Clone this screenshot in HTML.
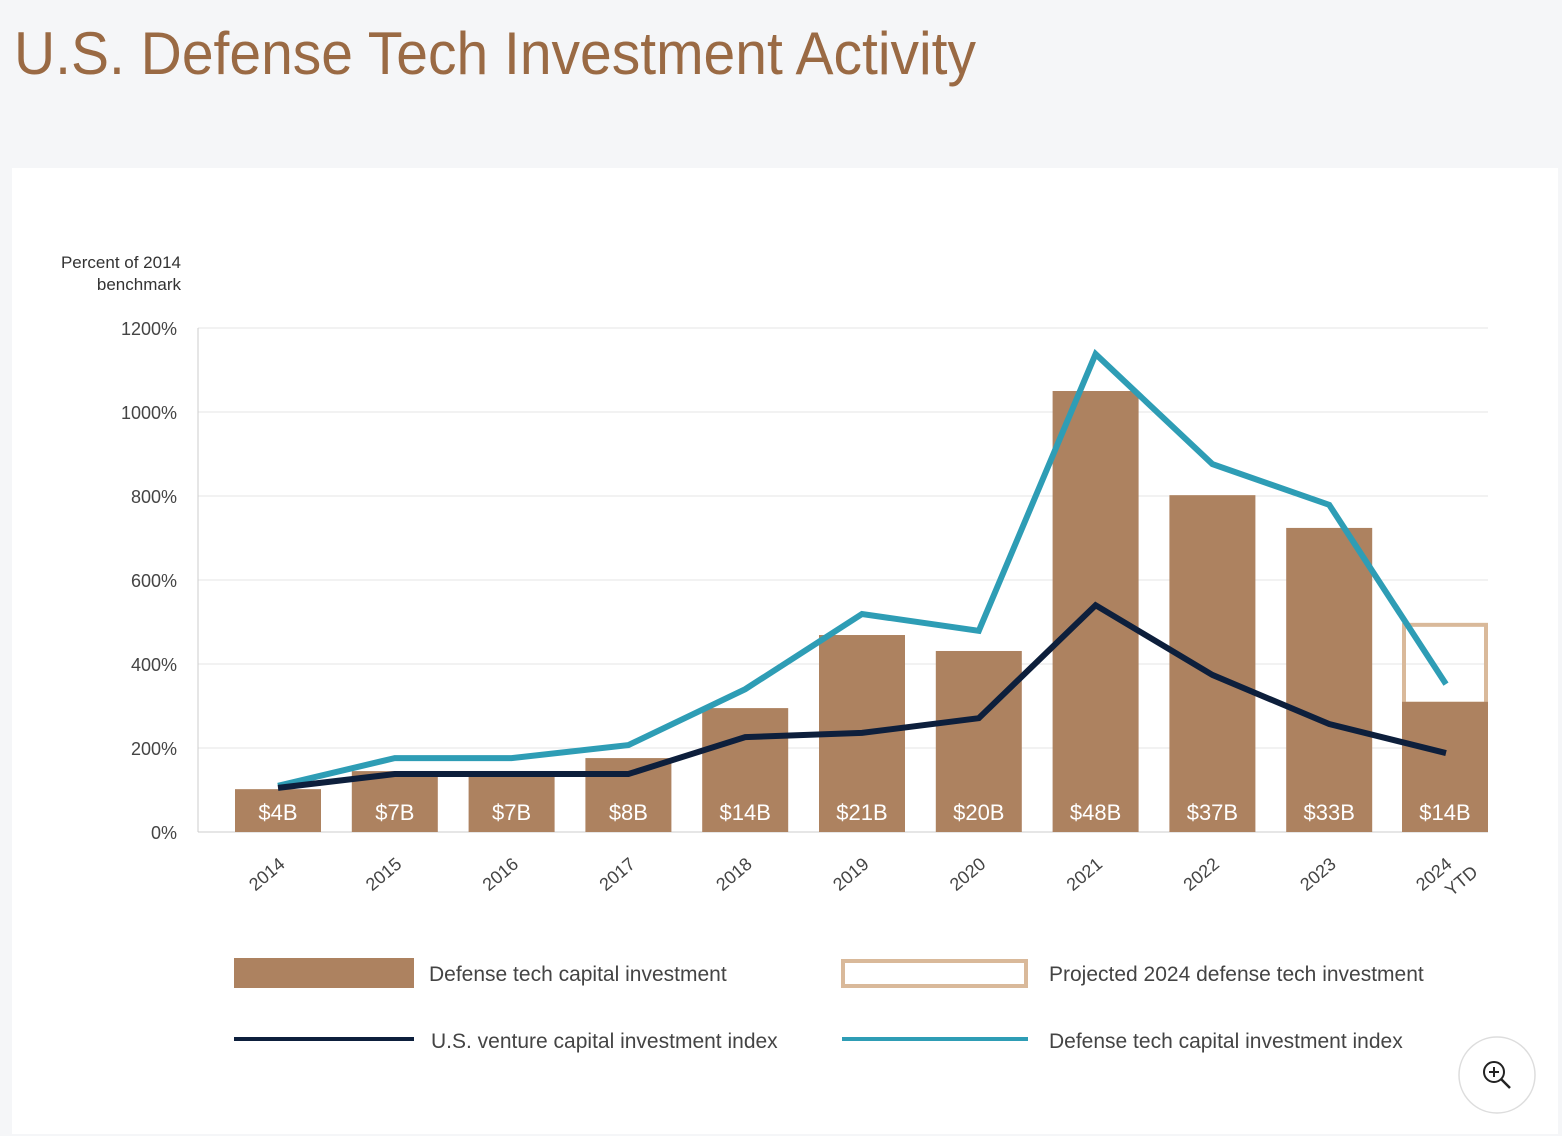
<!DOCTYPE html>
<html><head><meta charset="utf-8"><style>
html,body{margin:0;padding:0;background:#f5f6f8;}
svg{display:block;font-family:"Liberation Sans",sans-serif;}
</style></head><body>
<svg id="chart" width="1562" height="1136" viewBox="0 0 1562 1136">
<rect x="0" y="0" width="1562" height="1136" fill="#f5f6f8"/>
<text x="14" y="74" font-size="60" fill="#9a6a44" textLength="962" lengthAdjust="spacingAndGlyphs">U.S. Defense Tech Investment Activity</text>
<rect x="12" y="168" width="1546" height="966" fill="#ffffff"/>
<text x="181" y="268" font-size="17" fill="#333" text-anchor="end">Percent of 2014</text>
<text x="181" y="290" font-size="17" fill="#333" text-anchor="end">benchmark</text>
<g id="grid"></g><g id="bars"></g><g id="lines"></g><g id="xlabels"></g>
<g>
<rect x="234" y="958" width="180" height="30" fill="#ad8260"/>
<text x="429" y="981" font-size="21" fill="#444">Defense tech capital investment</text>
<rect x="843" y="961" width="183" height="25" fill="none" stroke="#d9b99a" stroke-width="4"/>
<text x="1049" y="981" font-size="21" fill="#444">Projected 2024 defense tech investment</text>
<line x1="234" y1="1039" x2="414" y2="1039" stroke="#0d1f3c" stroke-width="4"/>
<text x="431" y="1048" font-size="21" fill="#444">U.S. venture capital investment index</text>
<line x1="842" y1="1039" x2="1028" y2="1039" stroke="#2e9db5" stroke-width="4"/>
<text x="1049" y="1048" font-size="21" fill="#444">Defense tech capital investment index</text>
</g>
<g>
<circle cx="1497" cy="1075" r="38" fill="#fff" stroke="#ddd" stroke-width="1.5"/>
<circle cx="1494" cy="1072" r="10" fill="none" stroke="#222" stroke-width="2"/>
<line x1="1501" y1="1079" x2="1510" y2="1088" stroke="#222" stroke-width="2.5"/>
<line x1="1489" y1="1072" x2="1499" y2="1072" stroke="#222" stroke-width="2"/>
<line x1="1494" y1="1067" x2="1494" y2="1077" stroke="#222" stroke-width="2"/>
</g>
</svg>
<script>
const categories=["2014","2015","2016","2017","2018","2019","2020","2021","2022","2023","2024"];
const barValues=[102,145,145,176,295,469,431,1050,802,724,310];
const barLabels=["$4B","$7B","$7B","$8B","$14B","$21B","$20B","$48B","$37B","$33B","$14B"];
const projectedValue=498;
const defenseIndex=[110,176,176,207,340,519,479,1138,876,779,352];
const vcIndex=[105,138,138,138,226,236,271,540,374,257,188];
const yTicks=[0,200,400,600,800,1000,1200];
const NS="http://www.w3.org/2000/svg";
const x0=198,x1=1488,yBase=832,yTop=328,yMax=1200;
const firstC=278,step=116.8;
const xc=i=>firstC+step*i;
const y=v=>yBase-(v/yMax)*(yBase-yTop);
function mk(tag,attrs,parent){const e=document.createElementNS(NS,tag);for(const k in attrs)e.setAttribute(k,attrs[k]);parent.appendChild(e);return e;}
const grid=document.getElementById('grid');
yTicks.forEach(t=>{
 const l=mk('line',{x1:x0,x2:x1,y1:y(t),y2:y(t),stroke:t===0?'#ccc':'#e6e6e6','stroke-width':1},grid);
 
 
 const tx=mk('text',{x:177,y:y(t)+7,'font-size':18,fill:'#444','text-anchor':'end'},grid);
 tx.textContent=t+'%';
 
 
});
const ax=mk('line',{x1:x0,x2:x0,y1:yTop,y2:yBase,stroke:'#ccc','stroke-width':1},grid);


const bars=document.getElementById('bars');
const bw=86;
categories.forEach((c,i)=>{
 const cx=xc(i)+(i===categories.length-1?-1:0);
 if(i===categories.length-1){
  const p=mk('rect',{x:cx-bw/2+2,y:y(projectedValue)+2,width:bw-4,height:y(barValues[i])-y(projectedValue),fill:'none',stroke:'#d9b99a','stroke-width':4},bars);
  
  
 }
 const r=mk('rect',{x:cx-bw/2,y:y(barValues[i]),width:bw,height:yBase-y(barValues[i]),fill:'#ad8260'},bars);
 
 
 const t=mk('text',{x:cx,y:820,'font-size':22,fill:'#fff','text-anchor':'middle'},bars);
 t.textContent=barLabels[i];
 
 
 const xl=document.getElementById('xlabels');
 const g=mk('text',{transform:`translate(${cx+8},${866}) rotate(-40)`,'font-size':18,fill:'#444','text-anchor':'end'},xl);
 g.textContent=c;
 
 
 if(i===categories.length-1){
  const g2=mk('text',{transform:`translate(${cx+34},${874}) rotate(-40)`,'font-size':18,fill:'#444','text-anchor':'end'},xl);
  g2.textContent='YTD';
  
  
 }
});
const lines=document.getElementById('lines');
function pts(arr){return arr.map((v,i)=>`${xc(i)},${y(v)}`).join(' ');}
const l1=mk('polyline',{points:pts(defenseIndex),fill:'none',stroke:'#2e9db5','stroke-width':6,'stroke-linejoin':'miter'},lines);


const l2=mk('polyline',{points:pts(vcIndex),fill:'none',stroke:'#0d1f3c','stroke-width':6,'stroke-linejoin':'miter'},lines);


</script>
</body></html>
